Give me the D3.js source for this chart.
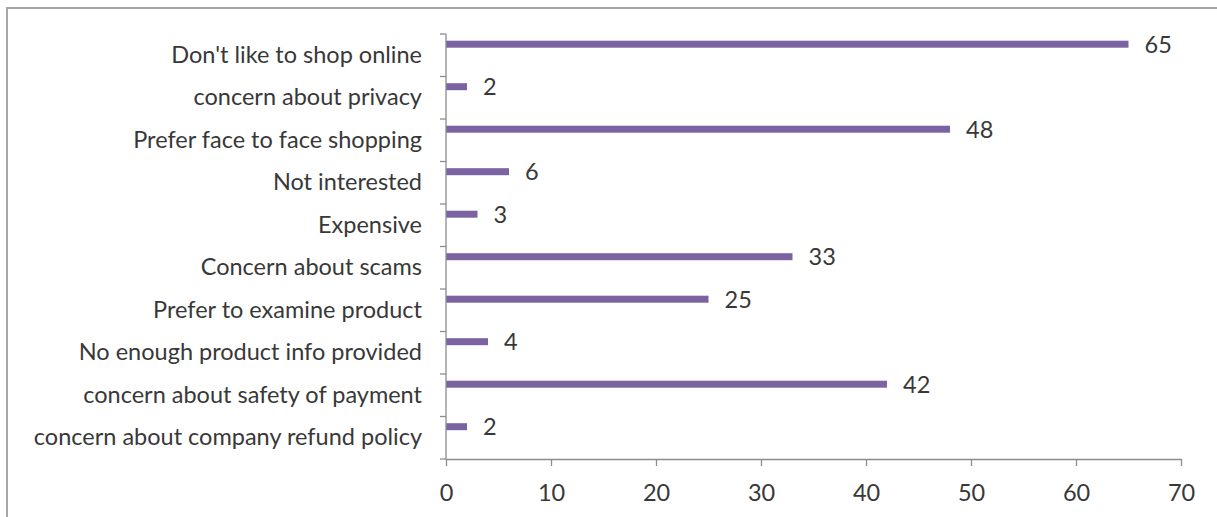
<!DOCTYPE html>
<html>
<head>
<meta charset="utf-8">
<script src="https://cdn.jsdelivr.net/npm/d3@7"></script>
<style>
  html, body { margin: 0; padding: 0; background: #fff; }
  svg { display: block; }
  text { font-family: Lato, "Open Sans", sans-serif; fill: #383838; }
</style>
</head>
<body>
<svg id="chart" width="1217" height="517"></svg>
<script>
// Reasons for not shopping online (number of respondents)
const categories = [
  "Don't like to shop online",
  "concern about privacy",
  "Prefer face to face shopping",
  "Not interested",
  "Expensive",
  "Concern about scams",
  "Prefer to examine product",
  "No enough product info provided",
  "concern about safety of payment",
  "concern about company refund policy"
];
const values = [65, 2, 48, 6, 3, 33, 25, 4, 42, 2];
const xTicks = [0, 10, 20, 30, 40, 50, 60, 70];

const svg = d3.select("#chart");
const W = 1217, H = 517;
const plot = { left: 446, right: 1181, top: 34, bottom: 459 };
const fontSize = 23.5;
const fontFamily = "Lato, 'Open Sans', sans-serif";
const axisColor = "#8c8c8c";

// Outer frame (top and left edges)
svg.append("path")
  .attr("d", `M7,${H} L7,8 L${W},8`)
  .attr("fill", "none")
  .attr("stroke", "#a6a6a6")
  .attr("stroke-width", 2);

const x = d3.scaleLinear().domain([0, 70]).range([plot.left, plot.right]);
const y = d3.scaleBand().domain(categories).range([plot.top, plot.bottom]);

// Bars sit in the upper part of each category band
const barH = 7;
const barCenter = d => y(d) + y.bandwidth() * 0.24;

svg.append("g").selectAll("rect")
  .data(categories)
  .join("rect")
  .attr("x", x(0))
  .attr("y", d => barCenter(d) - barH / 2)
  .attr("width", (d, i) => x(values[i]) - x(0))
  .attr("height", barH)
  .attr("fill", "#7b63a1");

// Value labels
svg.append("g").selectAll("text")
  .data(categories)
  .join("text")
  .attr("x", (d, i) => x(values[i]) + 16)
  .attr("y", d => barCenter(d))
  .attr("dy", "0.36em")
  .attr("font-size", fontSize)
  .text((d, i) => values[i]);

// Category axis
const yAxis = svg.append("g")
  .attr("transform", `translate(${plot.left},0)`)
  .call(d3.axisLeft(y).tickSize(0).tickPadding(24));
yAxis.select(".domain").attr("stroke", axisColor).attr("stroke-width", 1.3)
  .attr("d", `M0,${plot.top}V${plot.bottom}`);
yAxis.selectAll("text").attr("font-size", fontSize).attr("fill", "#383838")
  .attr("font-family", fontFamily);

// Category separators (ticks between bands)
const bounds = d3.range(categories.length + 1).map(i => plot.top + i * y.step());
svg.append("g").selectAll("line")
  .data(bounds)
  .join("line")
  .attr("x1", plot.left - 6).attr("x2", plot.left)
  .attr("y1", d => d).attr("y2", d => d)
  .attr("stroke", axisColor).attr("stroke-width", 1.3);

// Value axis
const xAxis = svg.append("g")
  .attr("transform", `translate(0,${plot.bottom})`)
  .call(d3.axisBottom(x).tickValues(xTicks).tickSize(7).tickPadding(18).tickSizeOuter(0));
xAxis.select(".domain").attr("stroke", axisColor).attr("stroke-width", 1.3);
xAxis.selectAll(".tick line").attr("stroke", axisColor).attr("stroke-width", 1.3);
xAxis.selectAll("text").attr("font-size", fontSize).attr("fill", "#383838")
  .attr("font-family", fontFamily);
</script>
</body>
</html>
